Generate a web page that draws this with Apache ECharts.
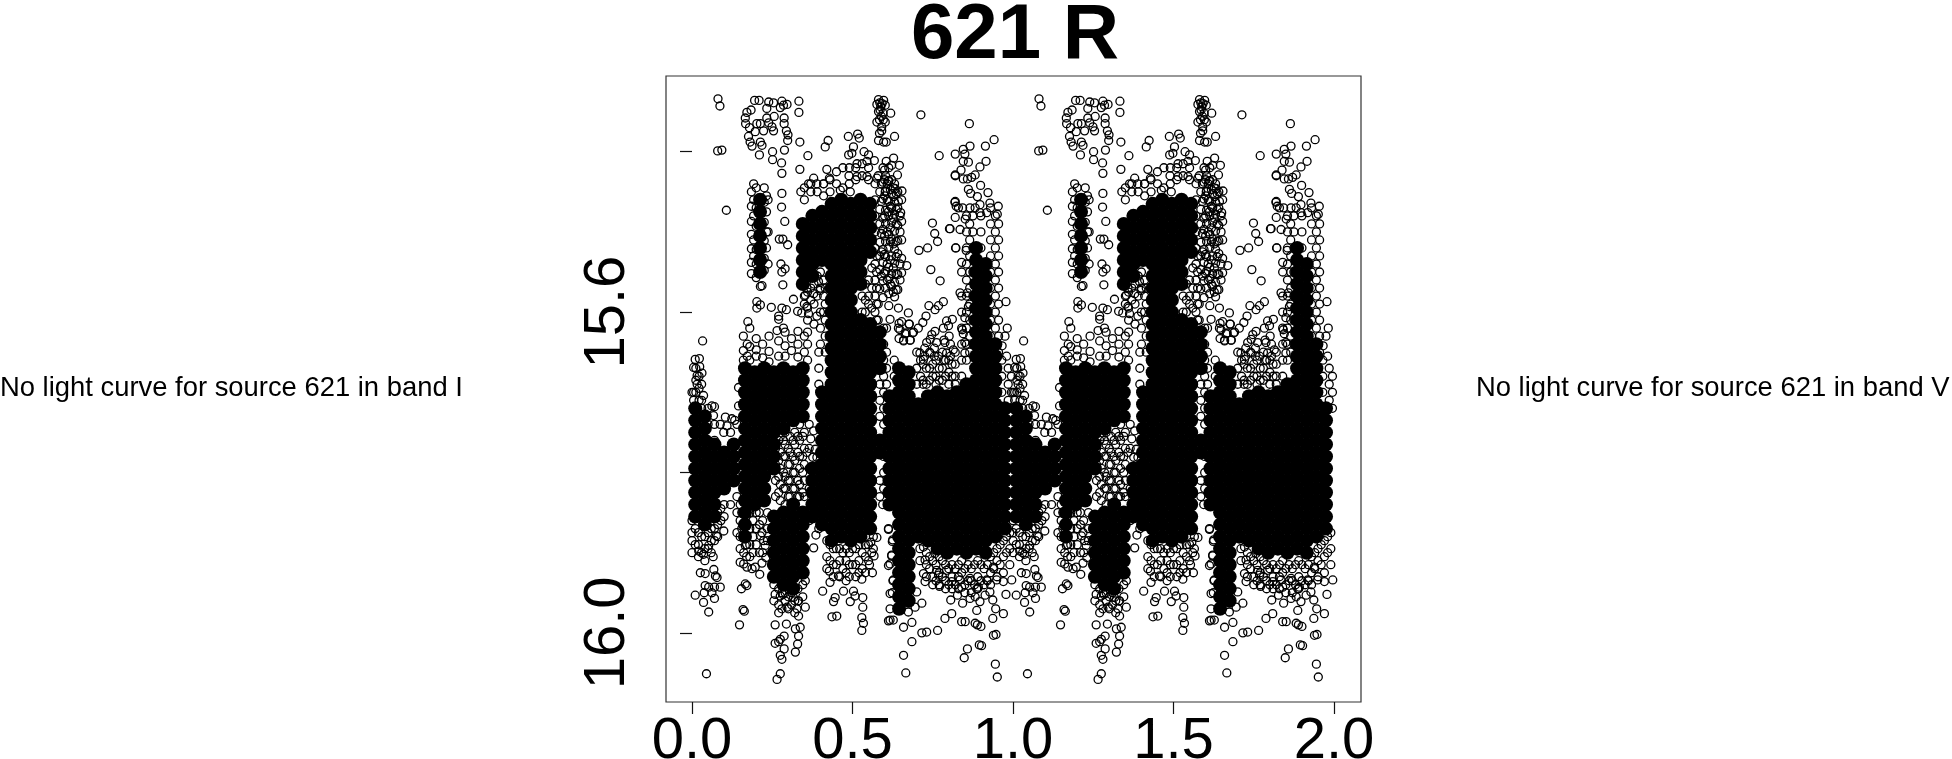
<!DOCTYPE html>
<html><head><meta charset="utf-8">
<style>html,body{margin:0;padding:0;background:#fff}#c{width:1952px;height:759px}</style>
<script src="https://cdn.jsdelivr.net/npm/echarts@6/dist/echarts.min.js"></script>
</head><body><div id="c"></div>
<script>
const chartTitle = "621 R";
const noteLeft = "No light curve for source 621 in band I";
const noteRight = "No light curve for source 621 in band V";
const xTicks = [0, 0.5, 1, 1.5, 2];
const yTicks = [15.4, 15.6, 15.8, 16.0];
const yLabels = [15.6, 16.0];
// solid black parts of the cloud, where circles overlap completely: [phase, mag, mag, ...]
const coreRows = [
[.01,15.72,15.735,15.75,15.765,15.78,15.795,15.81,15.825,15.84,15.855],
[.04,15.73,15.745,15.76,15.775,15.79,15.805,15.82,15.835,15.85,15.865],
[.07,15.765,15.78,15.795,15.81,15.825,15.84,15.855],
[.1,15.775,15.79,15.805,15.82],
[.13,15.765,15.78,15.795,15.81],
[.165,15.67,15.685,15.7,15.715,15.73,15.745,15.76,15.775,15.79,15.805,15.82,15.835,15.85,15.865,15.88],
[.195,15.675,15.69,15.705,15.72,15.735,15.75,15.765,15.78,15.795,15.81,15.825,15.84],
[.212,15.46,15.475,15.49,15.505,15.52,15.535,15.55],
[.225,15.67,15.685,15.7,15.715,15.73,15.745,15.76,15.775,15.79,15.805,15.82,15.835],
[.255,15.675,15.69,15.705,15.72,15.735,15.75,15.765,15.78,15.795,15.855,15.87,15.885,15.9,15.915,15.93],
[.285,15.67,15.685,15.7,15.715,15.73,15.745,15.85,15.865,15.88,15.895,15.91,15.925,15.94],
[.315,15.675,15.69,15.705,15.72,15.735,15.84,15.855,15.87,15.885,15.9,15.915,15.93,15.945],
[.345,15.49,15.505,15.52,15.535,15.55,15.565,15.67,15.685,15.7,15.715,15.73,15.85,15.865,15.88,15.895,15.91,15.925],
[.375,15.48,15.495,15.51,15.525,15.54,15.555,15.795,15.81,15.825,15.84,15.855],
[.405,15.475,15.49,15.505,15.52,15.535,15.7,15.715,15.73,15.745,15.76,15.775,15.79,15.805,15.82,15.835,15.85,15.865],
[.435,15.465,15.48,15.495,15.51,15.525,15.54,15.555,15.57,15.585,15.6,15.615,15.63,15.645,15.66,15.675,15.69,15.705,15.72,15.735,15.75,15.765,15.78,15.795,15.81,15.825,15.84,15.855,15.87,15.885],
[.465,15.46,15.475,15.49,15.505,15.52,15.535,15.55,15.565,15.58,15.595,15.61,15.625,15.64,15.655,15.67,15.685,15.7,15.715,15.73,15.745,15.76,15.775,15.79,15.805,15.82,15.835,15.85,15.865,15.88],
[.495,15.465,15.48,15.495,15.51,15.525,15.54,15.555,15.57,15.585,15.6,15.615,15.63,15.645,15.66,15.675,15.69,15.705,15.72,15.735,15.75,15.765,15.78,15.795,15.81,15.825,15.84,15.855,15.87,15.885],
[.525,15.46,15.475,15.49,15.505,15.52,15.535,15.55,15.565,15.61,15.625,15.64,15.655,15.67,15.685,15.7,15.715,15.73,15.745,15.76,15.775,15.79,15.805,15.82,15.835,15.85,15.865,15.88],
[.555,15.465,15.48,15.495,15.51,15.525,15.615,15.63,15.645,15.66,15.675,15.69,15.705,15.72,15.735,15.75,15.765,15.78,15.795,15.81,15.825,15.84,15.855,15.87],
[.585,15.625,15.64,15.655,15.67,15.76,15.775],
[.615,15.705,15.72,15.735,15.75,15.765,15.78,15.795,15.81,15.825,15.84],
[.645,15.67,15.685,15.7,15.715,15.73,15.745,15.76,15.775,15.79,15.805,15.82,15.835,15.85,15.865,15.88,15.895,15.91,15.925,15.94,15.955,15.97],
[.675,15.675,15.69,15.705,15.72,15.735,15.75,15.765,15.78,15.795,15.81,15.825,15.84,15.855,15.87,15.885,15.9,15.915,15.93,15.945,15.96],
[.705,15.715,15.73,15.745,15.76,15.775,15.79,15.805,15.82,15.835,15.85,15.865,15.88],
[.735,15.705,15.72,15.735,15.75,15.765,15.78,15.795,15.81,15.825,15.84,15.855,15.87,15.885],
[.765,15.7,15.715,15.73,15.745,15.76,15.775,15.79,15.805,15.82,15.835,15.85,15.865,15.88,15.895],
[.795,15.705,15.72,15.735,15.75,15.765,15.78,15.795,15.81,15.825,15.84,15.855,15.87,15.885,15.9],
[.825,15.7,15.715,15.73,15.745,15.76,15.775,15.79,15.805,15.82,15.835,15.85,15.865,15.88,15.895],
[.855,15.69,15.705,15.72,15.735,15.75,15.765,15.78,15.795,15.81,15.825,15.84,15.855,15.87,15.885,15.9],
[.885,15.52,15.535,15.55,15.565,15.58,15.595,15.61,15.625,15.64,15.655,15.67,15.685,15.7,15.715,15.73,15.745,15.76,15.775,15.79,15.805,15.82,15.835,15.85,15.865,15.88,15.895],
[.915,15.54,15.555,15.57,15.585,15.6,15.615,15.63,15.645,15.66,15.675,15.69,15.705,15.72,15.735,15.75,15.765,15.78,15.795,15.81,15.825,15.84,15.855,15.87,15.885,15.9],
[.945,15.64,15.655,15.67,15.685,15.7,15.715,15.73,15.745,15.76,15.775,15.79,15.805,15.82,15.835,15.85,15.865,15.88],
[.975,15.72,15.735,15.75,15.765,15.78,15.795,15.81,15.825,15.84,15.855,15.87]
];
// individual circles, as phase, mag pairs
const ringPairs = [
.081,15.334,.087,15.343,.08,15.399,.093,15.398,.107,15.473,.033,15.636,.01,15.659,.023,15.658,.005,15.669,.024,15.668,.016,15.679,.031,15.676,
.195,15.336,.209,15.336,.239,15.338,.254,15.339,.28,15.337,.285,15.342,.275,15.345,.296,15.341,.333,15.337,.333,15.351,.184,15.348,.171,15.351,.166,15.358,.167,15.365,.179,15.37,.202,15.365,.213,15.365,.223,15.374,.197,15.375,.233,15.346,.233,15.358,.256,15.356,.239,15.364,.249,15.369,.254,15.374,.287,15.358,.287,15.365,.294,15.374,.299,15.379,.298,15.386,.176,15.381,.181,15.388,.187,15.393,.213,15.388,.218,15.392,.21,15.404,.251,15.4,.251,15.41,.288,15.398,.279,15.414,.28,15.427,.336,15.388,.336,15.422,.361,15.405,
.581,15.335,.597,15.336,.576,15.341,.588,15.344,.602,15.342,.581,15.35,.595,15.352,.619,15.352,.576,15.363,.602,15.363,.591,15.369,.591,15.374,.584,15.377,.581,15.386,.597,15.388,.605,15.388,.631,15.381,.713,15.354,.864,15.365,.585,15.339,.592,15.34,.586,15.348,.59,15.356,.584,15.36,.596,15.36,
.424,15.386,.415,15.394,.487,15.381,.516,15.378,.521,15.383,.503,15.394,.42,15.422,.428,15.433,.488,15.404,.498,15.402,.514,15.415,.536,15.4,.55,15.404,.545,15.412,.568,15.411,.605,15.412,.628,15.408,.646,15.417,.622,15.417,.6,15.423,.64,15.429,.489,15.43,.514,15.431,.545,15.431,.576,15.433,.612,15.437,.379,15.433,.363,15.44,.389,15.44,.41,15.44,.339,15.45,.462,15.448,.493,15.45,.602,15.45,.633,15.446,.654,15.449,.628,15.456,.643,15.462,.65,15.476,.612,15.475,
.28,15.452,.279,15.469,.289,15.487,.272,15.509,.283,15.509,.298,15.516,.277,15.54,.29,15.546,.28,15.55,.283,15.566,.213,15.568,.218,15.567,.202,15.587,.213,15.591,.202,15.595,.247,15.594,.28,15.595,.294,15.597,.27,15.605,.27,15.609,.174,15.612,.265,15.623,.285,15.62,.316,15.584,.329,15.599,.342,15.601,.358,15.593,.363,15.602,.389,15.605,.353,15.579,.358,15.57,.379,15.577,.394,15.562,.399,15.573,
.669,15.542,.674,15.601,.643,15.595,.617,15.609,.645,15.614,.676,15.615,.705,15.62,.648,15.622,.664,15.627,.69,15.625,.645,15.633,.659,15.636,.68,15.635,
.749,15.489,.756,15.502,.765,15.512,.734,15.52,.707,15.523,.744,15.547,.773,15.561,.804,15.496,.77,15.405,.82,15.403,.82,15.43,.82,15.462,.83,15.47,.82,15.482,.822,15.52,
.941,15.385,.914,15.393,.866,15.393,.845,15.397,.85,15.403,.845,15.412,.861,15.413,.916,15.412,.897,15.419,.838,15.423,.82,15.429,.845,15.434,.858,15.434,.882,15.429,.871,15.432,.899,15.442,.861,15.447,.868,15.452,.922,15.451,.889,15.456,.819,15.463,.823,15.468,.843,15.47,.866,15.47,.882,15.47,.897,15.466,.928,15.464,.954,15.468,.951,15.478,.918,15.476,.897,15.476,.851,15.484,.802,15.496,.835,15.497,.821,15.52,.854,15.523,.84,15.538,.835,15.576,.858,15.576,.978,15.587,.861,15.593,.85,15.607,.982,15.62,.975,15.63,.842,15.622,.845,15.627,.85,15.638,.966,15.642,.85,15.651,.98,15.655,
.783,15.587,.768,15.592,.738,15.592,.757,15.597,.729,15.605,.719,15.613,.677,15.615,.653,15.612,.643,15.62,.667,15.626,.687,15.626,.659,15.635,.679,15.635,.811,15.609,.793,15.611,.799,15.617,.783,15.62,.801,15.63,.757,15.624,.747,15.628,.742,15.634,.762,15.638,.788,15.638,.731,15.638,.814,15.647,.71,15.651,.721,15.659,.742,15.651,.768,15.655,.793,15.651,
.045,16.051,.265,16.058,.275,16.051,.666,16.05,.659,16.028,.01,15.953,.036,15.962,.052,15.974,.026,15.925,.041,15.926,.068,15.921,.066,15.905,.036,15.902,.021,15.898,.052,15.891,.041,15.941,.052,15.943,.073,15.929,.078,15.931,.088,15.943,.07,15.943,.07,15.957,.038,15.95,.062,15.95,.099,15.873,.076,15.879,
.148,15.99,.159,15.971,.163,15.973,.154,15.945,.166,15.939,.171,15.941,.15,15.912,.161,15.914,.171,15.918,.187,15.92,.197,15.918,.211,15.927,.218,15.913,.23,15.906,.213,15.879,.223,15.885,.228,15.891,.218,15.875,.166,15.891,.161,15.9,.14,15.875,
.259,15.952,.275,15.954,.283,15.952,.259,15.99,.27,15.975,.296,15.968,.294,15.989,.287,16.004,.275,16.008,.259,16.013,.27,16.011,.287,16.02,.275,16.028,.28,16.033,.327,15.97,.353,15.968,.332,15.979,.337,15.993,.322,15.995,.332,16.004,.329,16.014,.322,16.024,.316,15.956,.332,15.96,.353,15.935,
.379,15.894,.386,15.878,.379,15.748,.37,15.758,.384,15.771,.376,15.781,.358,15.775,.389,15.781,.407,15.948,.428,15.923,.43,15.937,.446,15.956,.441,15.961,.436,15.98,.451,15.979,.472,15.948,.456,15.929,.48,15.925,.503,15.948,.508,15.954,.493,15.961,.529,15.933,.562,15.925,.553,15.915,.532,15.956,.532,15.968,.529,15.981,.534,15.988,.529,15.997,.567,15.904,.557,15.887,.576,15.881,.56,15.9,
.594,15.84,.617,15.837,.612,15.871,.624,15.886,.622,15.904,.617,15.914,.626,15.935,.624,15.95,.617,15.97,.612,15.985,.659,15.993,.685,16.011,.716,16.0,.731,15.999,.765,15.997,.788,15.982,.809,15.976,.848,16.031,.858,16.02,.895,16.015,.882,15.988,.84,15.986,.851,15.986,.889,15.99,.9,15.992,.902,16.016,.939,16.003,.947,16.002,.945,16.039,.951,16.055,.937,15.982,.97,15.976,.946,15.97,.978,15.952,.937,15.959,.928,15.949,.892,15.943,.882,15.955,.866,15.957,.897,15.961,.887,15.972,.913,15.953,.806,15.959,.827,15.953,.843,15.963,.84,15.943,.809,15.936,.771,15.942,.768,15.928,.726,15.936,.721,15.926,.716,15.963,.695,15.968,.674,15.974,.996,15.934,.97,15.936,.939,15.918,.949,15.934,.918,15.934,.887,15.945,.866,15.932,.835,15.934,.793,15.922,.762,15.922,.757,15.901,.726,15.909,.721,15.893,.617,15.984,.627,15.984,.685,15.987,.617,15.951,.627,15.934,.612,15.916,.622,15.903,.625,15.884,.612,15.87,.7,15.949,
.062,15.717,.07,15.718,.067,15.729,.088,15.74,.104,15.731,.124,15.733,.145,15.694,.145,15.717,.133,15.735,.109,15.742,.099,15.75,.016,15.69,0,15.7,.036,15.704
];
// loose, lace-like parts of the cloud: [phase, mag, mag, ...]
const laceRows = [
[.185,15.45,15.468,15.487,15.503,15.521,15.538,15.552],[.192,15.44,15.46,15.48,15.51,15.53],[.2,15.445,15.47,15.493,15.522,15.54,15.557],[.225,15.445,15.463,15.488,15.511,15.533,15.548],[.232,15.455,15.475,15.5,15.52],[.237,15.46,15.5,15.54],
[.16,15.63,15.648,15.66],[.172,15.64,15.655],[.18,15.62,15.643,15.66],[.2,15.633,15.647,15.655],[.22,15.64,15.657],[.24,15.63,15.649,15.662],[.27,15.636,15.655],[.29,15.625,15.642,15.655],[.31,15.633,15.648],[.33,15.624,15.64,15.656],[.35,15.63,15.65],[.36,15.64,15.66],
[.595,15.42,15.438,15.459,15.483,15.497,15.522,15.538,15.561,15.582],[.603,15.43,15.449,15.473,15.49,15.512,15.531,15.549,15.57],[.613,15.42,15.436,15.462,15.48,15.503,15.519,15.544,15.558,15.577,15.592],[.622,15.435,15.452,15.47,15.488,15.509,15.53,15.552,15.568],[.631,15.44,15.463,15.478,15.499,15.522,15.539,15.563,15.581],[.641,15.45,15.47,15.492,15.511,15.527,15.553,15.572],[.653,15.46,15.487,15.51,15.533,15.551],[.585,15.45,15.472,15.49,15.513,15.53,15.547,15.571],[.59,15.44,15.462,15.502,15.525,15.555],[.608,15.44,15.46,15.5,15.54,15.56],[.627,15.445,15.483,15.515,15.545,15.575],[.648,15.48,15.5,15.54,15.56],[.6,15.435,15.455,15.48,15.505,15.528,15.552],[.618,15.447,15.468,15.495,15.512,15.535,15.565],[.636,15.452,15.472,15.49,15.512,15.531,15.552,15.572],
[.35,15.46,15.445,15.58,15.59],[.37,15.45,15.44,15.57,15.585],[.39,15.45,15.555,15.58],[.41,15.455,15.44,15.56,15.58,15.6],[.43,15.45,15.435],[.45,15.44,15.425],[.47,15.445,15.42],[.49,15.44,15.42],[.51,15.435,15.42],[.53,15.43,15.415,15.58,15.6],[.55,15.435,15.42,15.56,15.58,15.59],[.57,15.44,15.46,15.48,15.5,15.52,15.54,15.56,15.58,15.6],[.58,15.43,15.59,15.61,15.63],[.54,15.565,15.585,15.6],[.56,15.545,15.57,15.595],[.575,15.53,15.55,15.57,15.59,15.61],[.36,15.575,15.595,15.61,15.625],[.38,15.565,15.59,15.615],[.4,15.55,15.57,15.6,15.62,15.64],[.415,15.57,15.59,15.61,15.63,15.65],
[.26,15.75,15.77,15.79,15.81,15.83],[.27,15.76,15.785,15.805,15.825],[.275,15.755,15.775,15.795,15.815,15.835],[.285,15.76,15.78,15.8,15.82],[.29,15.75,15.765,15.78,15.805,15.82,15.84],[.3,15.77,15.79,15.81,15.83],[.305,15.755,15.775,15.79,15.81,15.83],[.315,15.76,15.78,15.8,15.82],[.32,15.75,15.765,15.785,15.8,15.82,15.84],[.33,15.755,15.775,15.81,15.83],[.335,15.74,15.76,15.78,15.795,15.815,15.83],[.345,15.755,15.78,15.8,15.825],[.35,15.73,15.75,15.77,15.79,15.81,15.83],[.365,15.74,15.77,15.795,15.82,15.86],[.395,15.65,15.67,15.69,15.79,15.83,15.85,15.87],
[.585,15.69,15.71,15.73,15.81,15.83],[.597,15.62,15.64,15.66,15.68,15.7,15.72,15.74,15.76,15.78,15.8,15.82],[.606,15.62,15.65,15.67,15.69],[.63,15.66,15.68],
[.7,15.65,15.67,15.69],[.712,15.66,15.68],[.72,15.665,15.685,15.69],[.73,15.67,15.69],[.74,15.65,15.67,15.685],[.75,15.665,15.68],[.76,15.66,15.68,15.69],[.77,15.67,15.685],[.78,15.65,15.67,15.685],[.79,15.66,15.68],[.8,15.66,15.675,15.69],[.81,15.665,15.68],[.82,15.65,15.665,15.68,15.69],[.84,15.55,15.58,15.6,15.62,15.64,15.66,15.68],[.725,15.645,15.655],[.755,15.645,15.655],[.785,15.635,15.66],[.805,15.64,15.655],
[.855,15.48,15.5,15.52,15.54,15.56,15.58,15.6,15.62,15.64,15.66],[.865,15.49,15.51,15.53,15.55,15.57,15.59,15.61,15.63,15.65],[.875,15.48,15.5,15.52,15.55,15.58,15.61,15.64],[.9,15.48,15.5,15.52,15.54,15.57,15.6,15.63],[.93,15.47,15.49,15.51,15.53,15.55,15.57,15.59,15.61,15.63,15.65],[.945,15.48,15.5,15.52,15.54,15.56,15.58,15.6,15.62],[.955,15.49,15.51,15.53,15.55,15.57,15.59,15.61,15.63,15.65],
[.965,15.66,15.68,15.7],[.985,15.67,15.69,15.71],[.995,15.68,15.7,15.72],[.005,15.7,15.71],[.03,15.69,15.71,15.72],[.05,15.72,15.74,15.76],[.07,15.74,15.76],[.12,15.75,15.84],[.14,15.74,15.83,15.85],[.012,15.67,15.685,15.7],[.022,15.68,15.695,15.71],
[.71,15.895,15.91],[.73,15.9,15.915,15.93],[.74,15.905,15.92],[.75,15.91,15.93,15.94],[.76,15.915,15.935],[.77,15.905,15.925,15.94],[.78,15.91,15.93],[.79,15.915,15.935,15.945],[.8,15.92,15.94],[.81,15.915,15.93,15.945],[.82,15.92,15.94],[.83,15.915,15.93,15.945],[.84,15.91,15.925],[.85,15.92,15.94,15.95],[.86,15.915,15.935],[.87,15.92,15.935,15.95],[.88,15.915,15.94],[.89,15.91,15.93,15.945],[.9,15.915,15.935],[.91,15.92,15.94],[.92,15.915,15.935],[.93,15.905,15.925,15.94],[.94,15.9,15.92],[.95,15.895,15.91,15.93],[.96,15.89,15.915],[.97,15.885,15.905,15.925],[.98,15.88,15.9],[.99,15.875,15.895,15.915],
[.255,15.94,15.96],[.27,15.945,15.965],[.28,15.95,15.97],[.29,15.95,15.96],[.3,15.955,15.97],[.31,15.95,15.965],[.32,15.96,15.975],[.33,15.945,15.96],[.345,15.94,15.955],
[.42,15.885,15.905,15.92],[.43,15.89,15.91],[.44,15.895,15.915,15.93],[.45,15.895,15.915],[.46,15.895,15.91,15.93],[.47,15.9,15.92],[.48,15.895,15.91,15.935],[.49,15.9,15.915,15.93],[.5,15.895,15.915],[.51,15.895,15.915,15.93],[.52,15.89,15.91,15.925],[.53,15.9,15.92],[.54,15.89,15.905,15.925],[.55,15.89,15.91],[.565,15.88,15.895],
[0,15.86,15.875,15.885,15.9],[.01,15.87,15.89],[.02,15.875,15.89,15.905],[.03,15.88,15.9],[.04,15.88,15.895,15.91],[.05,15.875,15.895],[.06,15.87,15.885,15.9],[.07,15.87,15.885],[.08,15.85,15.865,15.88],[.09,15.845,15.86],[.1,15.84,15.855],[.15,15.84,15.86,15.88,15.895],[.155,15.85,15.87],[.17,15.89,15.905],[.18,15.85,15.87,15.89,15.905],[.19,15.86,15.88,15.9],[.2,15.85,15.87,15.89],[.21,15.85,15.865,15.9],[.22,15.86,15.9],[.235,15.85,15.87,15.885]
];
function core(){const o=[];coreRows.forEach(r=>{for(let i=1;i<r.length;i++){o.push([r[0],r[i]],[r[0]+1,r[i]]);}});return o;}
function rings(){const o=[];for(let i=0;i<ringPairs.length;i+=2){o.push([ringPairs[i],ringPairs[i+1]],[ringPairs[i]+1,ringPairs[i+1]]);}
laceRows.forEach(r=>{for(let i=1;i<r.length;i++){o.push([r[0],r[i]],[r[0]+1,r[i]]);}});return o;}
const chart=echarts.init(document.getElementById('c'),null,{renderer:'canvas'});
const F='"Liberation Sans",Arial,sans-serif';
chart.setOption({
 animation:false,backgroundColor:'#fff',
 title:{text:chartTitle,left:1010,top:-8,textAlign:'center',textStyle:{fontFamily:F,fontWeight:'bold',fontSize:78,color:'#000'}},
 grid:{left:666,top:76,width:695,height:626,show:true,borderColor:'#333',borderWidth:1.2,backgroundColor:'transparent',outerBoundsMode:'none',containLabel:false},
 xAxis:{type:'value',min:-0.081,max:2.084,splitLine:{show:false},axisLine:{show:false},
  axisTick:{show:true,length:12,lineStyle:{color:'#111',width:1.2},customValues:xTicks},
  axisLabel:{show:true,margin:11,hideOverlap:false,customValues:xTicks,formatter:v=>v.toFixed(1),fontFamily:F,fontSize:58,color:'#000'}},
 yAxis:{type:'value',inverse:true,min:15.3056,max:16.0862,splitLine:{show:false},axisLine:{show:false},
  axisTick:{show:true,length:12,lineStyle:{color:'#111',width:1.2},customValues:yTicks},
  axisLabel:{show:true,rotate:90,margin:29,hideOverlap:false,customValues:yLabels,formatter:v=>v.toFixed(1),fontFamily:F,fontSize:58,color:'#000'}},
 graphic:[
  {type:'text',left:0,top:375,style:{text:noteLeft,font:'27.4px '+F,fill:'#000'}},
  {type:'text',left:1476,top:375,style:{text:noteRight,font:'27.4px '+F,fill:'#000'}}
 ],
 series:[
  {type:'scatter',name:'core',data:core(),symbol:'circle',symbolSize:14,itemStyle:{color:'#000',opacity:1},silent:true,z:2},
  {type:'scatter',name:'rings',data:rings(),symbol:'circle',symbolSize:8,itemStyle:{color:'rgba(0,0,0,0)',borderColor:'#000',borderWidth:1.3,opacity:1},silent:true,z:3}
 ]
});
</script></body></html>
